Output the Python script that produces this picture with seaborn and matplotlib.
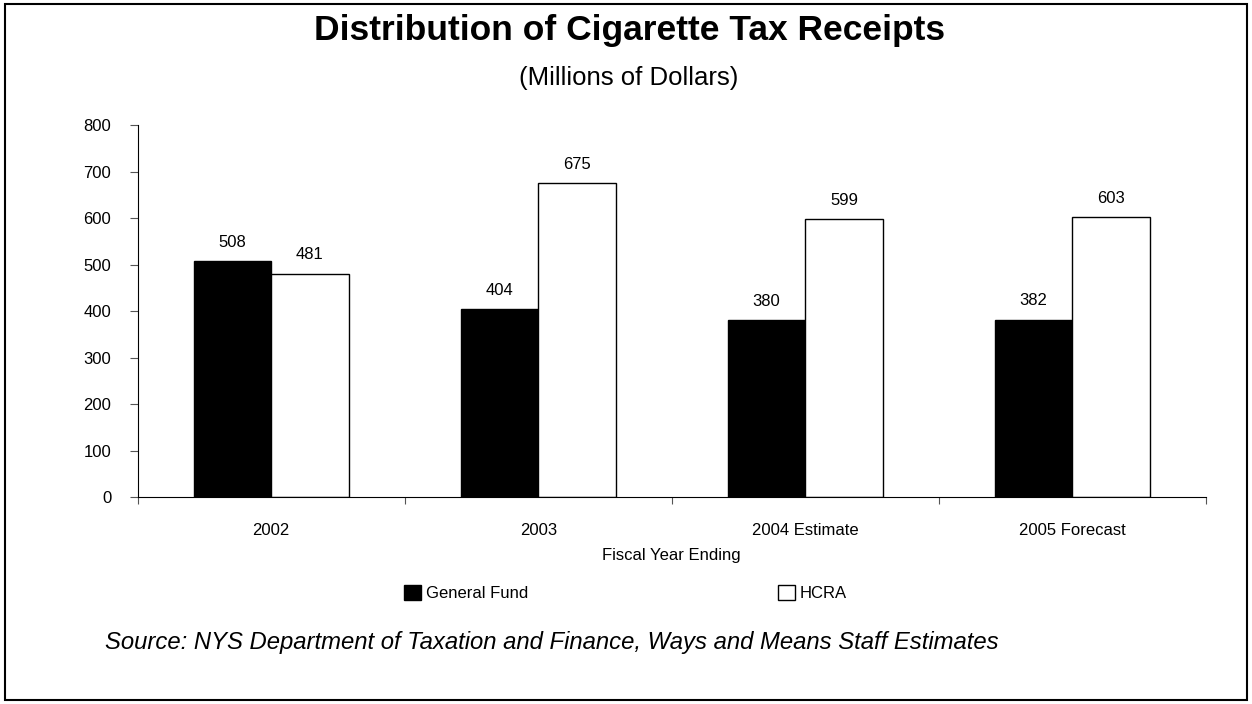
import matplotlib
matplotlib.use("Agg")
import matplotlib.pyplot as plt
from matplotlib.patches import Rectangle, Patch
import seaborn as sns
import pandas as pd

years = ["2002", "2003", "2004 Estimate", "2005 Forecast"]
general_fund = [508, 404, 380, 382]
hcra = [481, 675, 599, 603]
series_names = ["General Fund", "HCRA"]
y_ticks = [0, 100, 200, 300, 400, 500, 600, 700, 800]

df = pd.DataFrame({
    "year": years * 2,
    "fund": [series_names[0]] * len(years) + [series_names[1]] * len(years),
    "value": general_fund + hcra,
})

sns.set_theme(style="white")
plt.rcParams["font.family"] = ["Liberation Sans", "DejaVu Sans"]
plt.rcParams["text.color"] = "black"
plt.rcParams["axes.labelcolor"] = "black"
plt.rcParams["xtick.color"] = "black"
plt.rcParams["ytick.color"] = "black"

fig = plt.figure(figsize=(12.52, 7.04), dpi=100)
ax = fig.add_axes([0.110, 0.294, 0.853, 0.528])

sns.barplot(data=df, x="year", y="value", hue="fund", order=years,
            hue_order=series_names, palette=["black", "white"],
            width=0.58, edgecolor="black", linewidth=1.0, saturation=1,
            legend=False, ax=ax)

for container in ax.containers:
    ax.bar_label(container, fmt="%d", padding=8, fontsize=12, color="black")

ax.set_ylim(0, 800)
ax.set_yticks(y_ticks)
ax.set_xlim(-0.5, len(years) - 0.5)
ax.tick_params(axis="y", which="major", direction="out", length=6, width=0.8,
               labelsize=12, pad=13, left=True, color="#555555")
ax.tick_params(axis="x", which="major", length=0, labelsize=12, pad=19)
ax.set_xticks([i + 0.5 for i in range(-1, len(years))], minor=True)
ax.tick_params(axis="x", which="minor", direction="out", length=5, width=0.8,
               bottom=True, color="#555555")
for s in ["top", "right"]:
    ax.spines[s].set_visible(False)
for s in ["left", "bottom"]:
    ax.spines[s].set_color("black")
    ax.spines[s].set_linewidth(0.8)
ax.set_xlabel("Fiscal Year Ending", fontsize=12, labelpad=7)
ax.set_ylabel("")
ax.grid(False)

fig.text(0.503, 0.957, "Distribution of Cigarette Tax Receipts",
         ha="center", va="center", fontsize=25.5, fontweight="bold")
fig.text(0.502, 0.889, "(Millions of Dollars)", ha="center", va="center",
         fontsize=18.5)

handles = [Patch(facecolor="black", edgecolor="black", label=series_names[0]),
           Patch(facecolor="white", edgecolor="black", label=series_names[1])]
fig.legend(handles=handles, loc="center left", bbox_to_anchor=(0.323, 0.158),
           ncol=2, frameon=False, fontsize=12, handlelength=1.0,
           handleheight=1.0, handletextpad=0.3, columnspacing=15.0,
           borderpad=0.0, borderaxespad=0.0)

fig.text(0.084, 0.087,
         "Source: NYS Department of Taxation and Finance, Ways and Means Staff Estimates",
         ha="left", va="center", fontsize=17.2, style="italic")

fig.patches.append(Rectangle((0.004, 0.005), 0.992, 0.99, transform=fig.transFigure,
                             fill=False, edgecolor="black", linewidth=1.5))

fig.savefig("out.png", dpi=100)
